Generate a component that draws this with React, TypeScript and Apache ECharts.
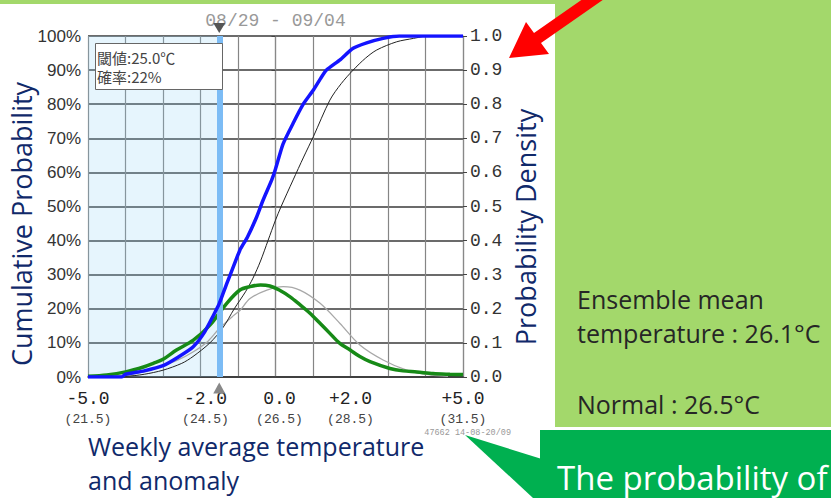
import React, { useEffect, useRef } from 'react';
import * as echarts from 'echarts';

// x axis: weekly mean temperature anomaly (°C); normal = 26.5 °C
const xTicks = [-5, -2, 0, 2, 5];
const xTickLabels = ['-5.0', '-2.0', '0.0', '+2.0', '+5.0'];
const xTickTemps = ['(21.5)', '(24.5)', '(26.5)', '(28.5)', '(31.5)'];

// threshold 25.0 °C -> anomaly -1.5, probability 22 %
const threshold = -1.5;
const thresholdLabel = '閾値:25.0℃';
const probabilityLabel = '確率:22%';
const periodLabel = '08/29 - 09/04';
const stampLabel = '47662 14-08-20/09';

// Ensemble cumulative probability (blue)
const ensCdfX = [-5, -4.1, -4, -3.5, -3, -2.6, -2.2, -1.9, -1.65, -1.5, -1.3, -1.1, -0.95, -0.75, -0.5, -0.33, -0.1, 0, 0.2, 0.47, 0.74, 1.0, 1.2, 1.36, 1.72, 2.07, 2.43, 2.87, 3.3, 5];
const ensCdfY = [0, 0, 0.008, 0.018, 0.033, 0.058, 0.088, 0.13, 0.182, 0.215, 0.274, 0.33, 0.372, 0.41, 0.47, 0.519, 0.578, 0.61, 0.683, 0.744, 0.8, 0.84, 0.875, 0.9, 0.93, 0.964, 0.98, 0.993, 1.0, 1.0];

// Climatological cumulative probability (thin black)
const climCdfX = [-5, -4, -3.5, -3, -2.5, -2.2, -1.75, -1.4, -1.1, -0.8, -0.6, -0.4, -0.2, 0, 0.15, 0.47, 0.75, 1.01, 1.45, 1.75, 2.07, 2.4, 2.7, 3.23, 3.68, 4.0];
const climCdfY = [0, 0.002, 0.008, 0.02, 0.04, 0.06, 0.1, 0.145, 0.2, 0.25, 0.29, 0.34, 0.4, 0.46, 0.5, 0.578, 0.645, 0.705, 0.812, 0.86, 0.9, 0.935, 0.959, 0.983, 0.993, 1.0];

// Ensemble probability density (green)
const ensPdfX = [-5, -4.5, -4, -3.5, -3.26, -3, -2.64, -2.19, -1.75, -1.3, -0.95, -0.68, -0.4, -0.15, 0.1, 0.39, 0.65, 0.92, 1.2, 1.45, 1.7, 1.99, 2.25, 2.52, 3.05, 3.4, 3.77, 4.2, 4.65, 5];
const ensPdfY = [0.002, 0.006, 0.015, 0.03, 0.04, 0.052, 0.079, 0.108, 0.152, 0.216, 0.255, 0.265, 0.27, 0.267, 0.255, 0.235, 0.212, 0.187, 0.156, 0.128, 0.1, 0.079, 0.06, 0.045, 0.025, 0.018, 0.015, 0.01, 0.008, 0.007];

// Climatological probability density (thin gray)
const climPdfX = [-5, -4.5, -4, -3.5, -3.08, -2.6, -2.19, -1.8, -1.5, -1.12, -0.95, -0.68, -0.23, 0.21, 0.65, 1.19, 1.72, 2.25, 2.87, 3.5, 4.12, 4.6];
const climPdfY = [0, 0.002, 0.006, 0.016, 0.03, 0.05, 0.074, 0.105, 0.142, 0.18, 0.195, 0.23, 0.255, 0.265, 0.255, 0.216, 0.157, 0.094, 0.05, 0.02, 0.006, 0.002];

const pairs = (xs: number[], ys: number[]) => xs.map((x, i) => [x, ys[i]]);

const NAVY = '#10296a';
// small horizontal nudges (px) of the x tick labels, as drawn in the source
const xLabelNudge = [0, 5, 4, 0, 0];

export default function App() {
  const ref = useRef<HTMLDivElement>(null);

  useEffect(() => {
    if (!ref.current) return;
    const chart = echarts.init(ref.current, null, { renderer: 'svg' });

    const rich: any = {};
    xLabelNudge.forEach((n, i) => {
      rich['a' + i] = { fontFamily: 'Liberation Mono', fontSize: 18, color: '#222', lineHeight: 24, padding: [0, 0, 0, n * 2] };
      rich['b' + i] = { fontFamily: 'Liberation Mono', fontSize: 13, color: '#444', lineHeight: 16, padding: [0, 0, 0, n * 2] };
    });

    const option: any = {
      animation: false,
      backgroundColor: '#ffffff',
      grid: { left: 88, top: 36, width: 375, height: 341 },
      xAxis: {
        type: 'value',
        min: -5,
        max: 5,
        interval: 1,
        axisLine: { show: true, lineStyle: { color: '#333', width: 1.5 } },
        axisTick: { show: false },
        splitLine: { show: true, lineStyle: { color: '#858585', width: 1.2 } },
        axisLabel: {
          margin: 10,
          formatter: (v: number) => {
            const r = Math.round(v);
            const i = xTicks.indexOf(r);
            if (i < 0 || Math.abs(v - r) > 1e-6) return '';
            return `{a${i}|${xTickLabels[i]}}\n{b${i}|${xTickTemps[i]}}`;
          },
          rich,
        },
      },
      yAxis: [
        {
          type: 'value',
          min: 0,
          max: 1,
          interval: 0.1,
          position: 'left',
          axisLine: { show: true, lineStyle: { color: '#888', width: 1.2 } },
          axisTick: { show: true, length: 4, lineStyle: { color: '#444' } },
          splitLine: { show: true, lineStyle: { color: '#3a3a3a', width: 1.5 } },
          axisLabel: {
            margin: 7,
            formatter: (v: number) => Math.round(v * 100) + '%',
            fontFamily: 'Liberation Sans',
            fontSize: 17,
            color: '#333',
          },
        },
        {
          type: 'value',
          min: 0,
          max: 1,
          interval: 0.1,
          position: 'right',
          axisLine: { show: true, lineStyle: { color: '#888', width: 1.2 } },
          axisTick: { show: true, length: 4, lineStyle: { color: '#444' } },
          splitLine: { show: false },
          axisLabel: {
            margin: 7,
            formatter: (v: number) => v.toFixed(1),
            fontFamily: 'Liberation Mono',
            fontSize: 18,
            color: '#333',
          },
        },
      ],
      series: [
        {
          type: 'line',
          data: [],
          z: 1,
          silent: true,
          markArea: {
            silent: true,
            itemStyle: { color: 'rgba(140,210,245,0.22)' },
            data: [[{ xAxis: -5 }, { xAxis: threshold }]],
          },
          markLine: {
            silent: true,
            symbol: 'none',
            label: { show: false },
            lineStyle: { color: '#7cbcf5', width: 6, type: 'solid', opacity: 1 },
            data: [{ xAxis: threshold }],
          },
          markPoint: {
            silent: true,
            label: { show: false },
            data: [
              { coord: [threshold, 1], symbol: 'triangle', symbolRotate: 180, symbolSize: [12, 10], symbolOffset: [0, -8], itemStyle: { color: '#555' } },
              { coord: [threshold, 0], symbol: 'triangle', symbolSize: [12, 11], symbolOffset: [0, 11], itemStyle: { color: '#888' } },
            ],
          },
        },
        {
          name: 'climatology density',
          type: 'line',
          yAxisIndex: 1,
          z: 2,
          smooth: 0.3,
          symbol: 'none',
          lineStyle: { color: '#a8a8a8', width: 1.3 },
          data: pairs(climPdfX, climPdfY),
        },
        {
          name: 'climatology cumulative',
          type: 'line',
          yAxisIndex: 0,
          z: 3,
          smooth: 0.3,
          symbol: 'none',
          lineStyle: { color: '#222', width: 1 },
          data: pairs(climCdfX, climCdfY),
        },
        {
          name: 'ensemble density',
          type: 'line',
          yAxisIndex: 1,
          z: 4,
          smooth: 0.3,
          symbol: 'none',
          lineStyle: { color: '#178a17', width: 3.5 },
          data: pairs(ensPdfX, ensPdfY),
        },
        {
          name: 'ensemble cumulative',
          type: 'line',
          yAxisIndex: 0,
          z: 5,
          smooth: 0.2,
          symbol: 'none',
          lineStyle: { color: '#1414ff', width: 3.5 },
          data: pairs(ensCdfX, ensCdfY),
        },
      ],
      graphic: [
        { type: 'rect', silent: true, shape: { x: 0, y: 0, width: 555, height: 4 }, style: { fill: '#a3d86b' } },
        { type: 'rect', silent: true, shape: { x: 555, y: 0, width: 276, height: 427 }, style: { fill: '#a3d86b' } },
        { type: 'rect', silent: true, shape: { x: 540, y: 430, width: 291, height: 68 }, style: { fill: '#00b050' } },
        { type: 'polygon', silent: true, shape: { points: [[465, 435], [545, 460], [545, 498], [533, 498]] }, style: { fill: '#00b050' } },
        {
          type: 'polygon',
          silent: true,
          shape: { points: [[509, 58], [526, 22], [534, 33], [600, -13], [607, -3], [541, 43], [549, 54]] },
          style: { fill: '#ff0000' },
        },
        // period label
        { type: 'text', silent: true, x: 275.5, y: 21, style: { text: periodLabel, align: 'center', verticalAlign: 'middle', fontFamily: 'Liberation Mono', fontSize: 18, fill: '#999' } },
        // threshold info box
        { type: 'rect', silent: true, z: 20, shape: { x: 95.5, y: 43.5, width: 127, height: 46 }, style: { fill: '#ffffff', stroke: '#666', lineWidth: 1 } },
        {
          type: 'text', silent: true, z: 21, x: 97, y: 66.5,
          style: { text: thresholdLabel + '\n' + probabilityLabel, verticalAlign: 'middle', lineHeight: 19, fontFamily: 'Noto Sans CJK JP', fontSize: 15, fill: '#444' },
        },
        // stamp
        { type: 'text', silent: true, x: 511, y: 433, style: { text: stampLabel, align: 'right', verticalAlign: 'middle', fontFamily: 'Liberation Mono', fontSize: 8.5, fill: '#999' } },
        // axis titles
        { type: 'text', silent: true, x: 21, y: 224, rotation: Math.PI / 2, style: { text: 'Cumulative Probability', align: 'center', verticalAlign: 'middle', fontFamily: 'Open Sans', fontSize: 27, fill: NAVY } },
        { type: 'text', silent: true, x: 525, y: 227, rotation: Math.PI / 2, style: { text: 'Probability Density', align: 'center', verticalAlign: 'middle', fontFamily: 'Open Sans', fontSize: 27, fill: NAVY } },
        { type: 'text', silent: true, x: 88, y: 446, style: { text: 'Weekly average temperature', verticalAlign: 'middle', fontFamily: 'Open Sans', fontSize: 25, fill: NAVY } },
        { type: 'text', silent: true, x: 88, y: 480, style: { text: 'and anomaly', verticalAlign: 'middle', fontFamily: 'Open Sans', fontSize: 25, fill: NAVY } },
        // side panel texts
        { type: 'text', silent: true, x: 577, y: 299, style: { text: 'Ensemble mean', verticalAlign: 'middle', fontFamily: 'Open Sans', fontSize: 25, fill: '#262626' } },
        { type: 'text', silent: true, x: 577, y: 333, style: { text: 'temperature : 26.1°C', verticalAlign: 'middle', fontFamily: 'Open Sans', fontSize: 25, fill: '#262626' } },
        { type: 'text', silent: true, x: 577, y: 404, style: { text: 'Normal : 26.5°C', verticalAlign: 'middle', fontFamily: 'Open Sans', fontSize: 25, fill: '#262626' } },
        { type: 'text', silent: true, x: 557, y: 477, style: { text: 'The probability of', verticalAlign: 'middle', fontFamily: 'Open Sans', fontSize: 33, fill: '#ffffff' } },
      ],
    };
    chart.setOption(option);
    return () => chart.dispose();
  }, []);

  return (
    <div
      ref={ref}
      style={{ position: 'fixed', left: 0, top: 0, width: 831, height: 498, background: '#fff' }}
    />
  );
}
